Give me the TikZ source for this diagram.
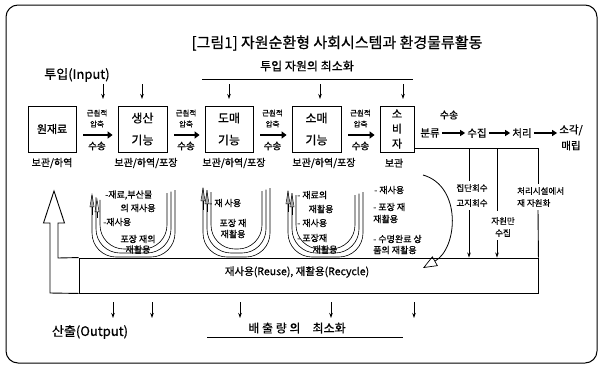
\documentclass[tikz,border=0pt]{standalone}
\usepackage{fontspec}
\setmainfont{Noto Sans CJK KR}[FakeBold=0.6]
\usetikzlibrary{arrows.meta,calc}
\newcommand\myfs[1]{\fontsize{#1}{#1}\selectfont}
\begin{document}
\begin{tikzpicture}[x=1pt,y=-1pt,
  box/.style={draw,line width=0.8pt,inner sep=0pt,align=center},
  lbl/.style={inner sep=0pt,align=center},
  tiny/.style={lbl,font=\myfs{7.5}},
  note/.style={lbl,font=\myfs{9}},
  fat/.style={line width=2.6pt,-{Triangle[length=5pt,width=7pt]},shorten <=7pt,shorten >=5pt},
  medfat/.style={line width=2pt,-{Triangle[length=5pt,width=6pt]},shorten <=2pt,shorten >=2pt},
  down/.style={line width=0.9pt,-{Stealth[length=5pt,width=3.5pt]}},
  ucurve/.style={line width=0.6pt,rounded corners=24pt},
  uarrow/.style={{Triangle[open,length=14pt,width=4.5pt,line width=0.5pt]}-},
]
\useasboundingbox (0,0) rectangle (601,367);
\fill[white] (0,0) rectangle (601,367);
\draw[line width=1pt,rounded corners=12pt] (6,5) rectangle (597,363);

% title and top texts
\node[lbl,font=\myfs{15}] (title) at (337,43) {[그림1] 자원순환형 사회시스템과 환경물류활동};
\node[lbl,font=\myfs{13}] (input) at (77,75) {투입(Input)};
\node[lbl,font=\myfs{12}] (inmin) at (307,66) {투입 자원의 최소화};
\draw[line width=0.7pt] (202,79) -- (413,79);

% top down arrows
\foreach \x in {103,142,229,320,403} \draw[down] (\x,84) -- (\x,99);

% boxes
\node[box,minimum width=48,minimum height=46,font=\myfs{11}] (raw) at (52,129) {원재료};
\node[box,minimum width=49,minimum height=46,font=\myfs{12}] (prod) at (142.5,129) {생산\\[10pt]기능};
\node[box,minimum width=48,minimum height=46,font=\myfs{12}] (whole) at (229,129) {도매\\[10pt]기능};
\node[box,minimum width=49,minimum height=46,font=\myfs{12}] (retail) at (316.5,129) {소매\\[10pt]기능};
\node[box,minimum width=34,minimum height=46,font=\myfs{11}] (cons) at (397,129) {소\\[4pt]비\\[4pt]자};

% labels under boxes
\node[lbl,font=\myfs{10}] (s1) at (52,163) {보관/하역};
\node[lbl,font=\myfs{10}] (s2) at (146,163) {보관/하역/포장};
\node[lbl,font=\myfs{10}] (s3) at (234,163) {보관/하역/포장};
\node[lbl,font=\myfs{10}] (s4) at (324,163) {보관/하역/포장};
\node[lbl,font=\myfs{10}] (s5) at (394,163) {보관};

% gap labels and thick arrows
\foreach \g/\a/\b in {97/raw/prod,186/prod/whole,272.5/whole/retail,360.5/retail/cons}{
  \node[tiny] at (\g,113) {근원적};
  \node[tiny] at (\g,124) {압축};
  \node[lbl,font=\myfs{9.5}] at (\g,146) {수송};
  \draw[fat] ([yshift=-6pt]\a.east) -- ([yshift=-6pt]\b.west);
}

% right chain
\node[lbl,font=\myfs{10}] (trans) at (449,115) {수송};
\node[lbl,font=\myfs{10.5}] (sort) at (430,133) {분류};
\node[lbl,font=\myfs{10.5}] (coll) at (477,133) {수집};
\node[lbl,font=\myfs{10.5}] (proc) at (522,133) {처리};
\node[lbl,font=\myfs{10.5}] (burn) at (571,137.5) {소각/\\[4.5pt]매립};
\draw[medfat] (sort) -- (coll);
\draw[medfat] (coll) -- (proc);
\draw[medfat] (proc) -- (burn.west |- proc);

% recycle box
\node[draw,line width=0.9pt,minimum width=459,minimum height=35,inner sep=0pt] (rec) at (308.5,275.5) {};
\node[lbl,font=\myfs{10.5}] (rectext) at (297,272) {재사용(Reuse), 재활용(Recycle)};
\draw[line width=0.9pt,line join=miter] (rec.north west) -- (58,258) -- (58,223) -- (64.5,223) -- (54,191) -- (43.5,223) -- (50,223) -- (50,293) -- (rec.south west);

% verticals from the right chain
\coordinate (h1) at (469,148);
\coordinate (h2) at (497,148);
\coordinate (h3) at (538,148);
\draw[line width=0.8pt] ([yshift=-19pt]cons.east) -- (h3);
\node[lbl,font=\myfs{8.5}] (t1) at (472,195.5) {집단회수\\[6.5pt]고지회수};
\node[lbl,font=\myfs{8.5}] (t2) at (503,227) {자원만\\[3.5pt]수집};
\node[lbl,font=\myfs{8.5},align=left,anchor=west] (t3) at (517,197) {처리시설에서\\[3.5pt]재 자원화};
\draw[line width=0.8pt] (h1) -- ([yshift=3pt]h1 |- t1.north);
\draw[down] ([yshift=-3pt]h1 |- t1.south) -- (h1 |- rec.north);
\draw[line width=0.8pt] (h2) -- ([yshift=6pt]h2 |- t2.north);
\draw[down] ([yshift=-3pt]h2 |- t2.south) -- (h2 |- rec.north);
\draw[line width=0.8pt] (h3) -- ([yshift=3pt]h3 |- t3.north);
\draw[line width=0.9pt] ([yshift=-3pt]h3 |- t3.south) -- (rec.north east);

% U curves
\foreach \d in {0,4,8} \draw[ucurve] (92+\d,195+\d*0.6) -- (92+\d,257-\d) -- (175-\d,257-\d) -- (175-\d,190+\d*0.4);
\draw[uarrow] (92,193) -- (92,215);
\draw[uarrow] (97,198) -- (97,218);
\foreach \d in {0,4,8} \draw[ucurve] (203+\d,188+\d*0.5) -- (203+\d,257-\d) -- (270-\d,257-\d) -- (270-\d,188+\d*0.4);
\draw[uarrow] (203,187) -- (203,210);
\draw[uarrow] (207,190) -- (207,212);
\foreach \d in {0,4,8} \draw[ucurve] (288+\d,191+\d*0.5) -- (288+\d,257-\d) -- (363-\d,257-\d) -- (363-\d,192+\d*0.4);
\draw[uarrow] (288,190) -- (288,212);
\draw[uarrow] (292,193) -- (292,215);

% group texts
\node[note,anchor=west] (a1) at (105,195) {-재료,부산물};
\node[note] (a2) at (138,208) {의 재사용};
\node[note,anchor=west] (a3) at (103,222) {-재사용};
\node[note] (a4) at (138,239) {포장 재의};
\node[note] (a5) at (138,249.5) {재활용};
\node[note,anchor=west] (b1) at (209,203) {- 재 사용};
\node[note] (b2) at (233,223) {포장 재};
\node[note] (b3) at (233,234) {재활용};
\node[note,anchor=west] (c1) at (297,195) {- 재료의};
\node[note] (c2) at (321,209) {재활용};
\node[note,anchor=west] (c3) at (297,223) {- 재사용};
\node[note,anchor=west] (c4) at (297,238) {- 포장재};
\node[note] (c5) at (325,249.5) {재활용};
\node[note,anchor=west] (d1) at (374,190) {- 재사용};
\node[note,anchor=west] (d2) at (373,207) {- 포장 재};
\node[note,anchor=west] (d3) at (373,219) {재활용};
\node[note,anchor=west] (d4) at (373,239) {- 수명완료 상};
\node[note,anchor=west] (d5) at (373,250) {품의 재활용};
\draw[line width=0.8pt,-{Triangle[open,length=14pt,width=11pt,line width=0.7pt]}] (423,175) .. controls (462,186) and (458,248) .. (423,268);

% bottom
\foreach \x in {113,152,240,331,414} \draw[down] (\x,302) -- (\x,318);
\node[lbl,font=\myfs{13}] (output) at (90,332) {산출(Output)};
\node[lbl,font=\myfs{12}] (outmin) at (297,328) {배 출 량 의\quad 최소화};
\draw[line width=0.7pt] (207,337) -- (403,337);
\end{tikzpicture}
\end{document}
